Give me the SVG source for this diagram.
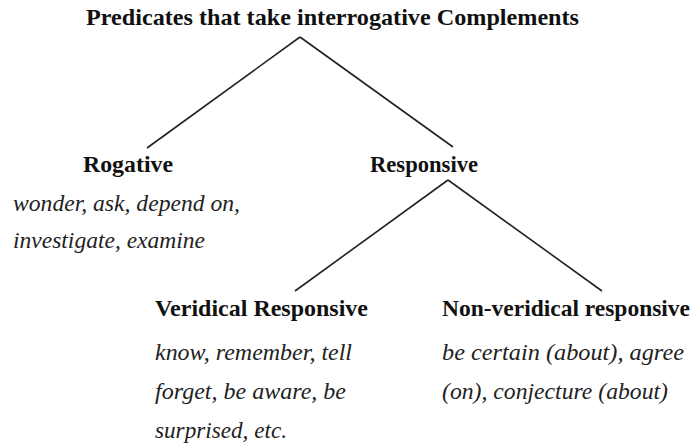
<svg xmlns="http://www.w3.org/2000/svg" width="694" height="448" viewBox="0 0 694 448">
<style>
.b{font-family:'Liberation Serif','Times New Roman','Noto Serif','DejaVu Serif',serif;font-weight:bold;font-size:24px;fill:#111}
.i{font-family:'Liberation Serif','Times New Roman','Noto Serif','DejaVu Serif',serif;font-style:italic;font-size:24px;fill:#222}
.e{stroke:#222;stroke-width:1.6;fill:none}
</style>
<rect width="694" height="448" fill="#fff"/>
<g id="connectors">
<line class="e" x1="300" y1="37" x2="147" y2="148"/>
<line class="e" x1="300" y1="37" x2="453" y2="147"/>
<line class="e" x1="448" y1="180" x2="295" y2="291"/>
<line class="e" x1="448" y1="180" x2="602" y2="291"/>
</g>
<g id="root">
<text class="b" x="86" y="25" textLength="493" lengthAdjust="spacingAndGlyphs">Predicates that take interrogative Complements</text>
</g>
<g id="rogative">
<text class="b" x="83" y="172" textLength="90" lengthAdjust="spacingAndGlyphs">Rogative</text>
<text class="i" x="13" y="211" textLength="227" lengthAdjust="spacingAndGlyphs">wonder, ask, depend on,</text>
<text class="i" x="13" y="248" textLength="192" lengthAdjust="spacingAndGlyphs">investigate, examine</text>
</g>
<g id="responsive">
<text class="b" x="370" y="172" textLength="108" lengthAdjust="spacingAndGlyphs">Responsive</text>
</g>
<g id="veridical">
<text class="b" x="155" y="316" textLength="213" lengthAdjust="spacingAndGlyphs">Veridical Responsive</text>
<text class="i" x="155" y="360" textLength="197" lengthAdjust="spacingAndGlyphs">know, remember, tell</text>
<text class="i" x="155" y="399" textLength="191" lengthAdjust="spacingAndGlyphs">forget, be aware, be</text>
<text class="i" x="155" y="438" textLength="132" lengthAdjust="spacingAndGlyphs">surprised, etc.</text>
</g>
<g id="nonveridical">
<text class="b" x="442" y="316" textLength="248" lengthAdjust="spacingAndGlyphs">Non-veridical responsive</text>
<text class="i" x="442" y="360" textLength="242" lengthAdjust="spacingAndGlyphs">be certain (about), agree</text>
<text class="i" x="442" y="399" textLength="226" lengthAdjust="spacingAndGlyphs">(on), conjecture (about)</text>
</g>
</svg>
